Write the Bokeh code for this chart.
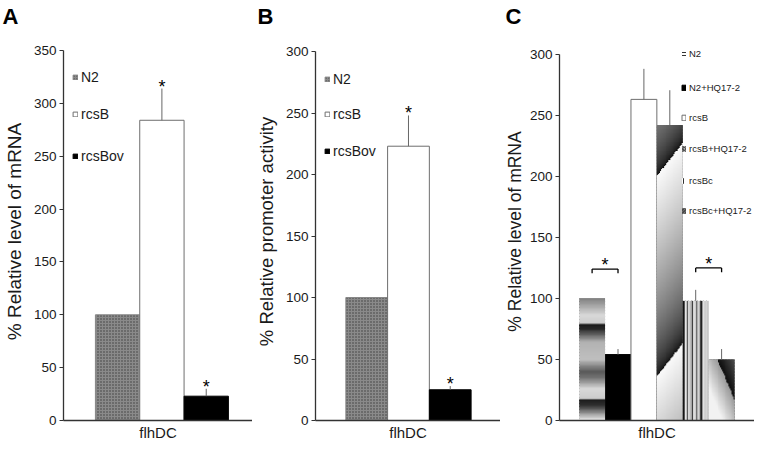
import numpy as np
from bokeh.plotting import figure
from bokeh.models import ColumnDataSource, Legend, LegendItem, FixedTicker, Range1d
from bokeh.layouts import row, column
from bokeh.embed import file_html
from bokeh.resources import INLINE
from bokeh.core.properties import value

# ---------------- data ----------------
gene = "flhDC"

groups_a = ["N2", "rcsB", "rcsBov"]
mrna_a = [100, 284, 23]
err_a = [0, 30, 7]
star_a = ["", "*", "*"]
yticks_a = [0, 50, 100, 150, 200, 250, 300, 350]

groups_b = ["N2", "rcsB", "rcsBov"]
promoter_b = [100, 223, 25]
err_b = [0, 25, 3]
star_b = ["", "*", "*"]
yticks_b = [0, 50, 100, 150, 200, 250, 300]

groups_c = ["N2", "N2+HQ17-2", "rcsB", "rcsB+HQ17-2", "rcsBc", "rcsBc+HQ17-2"]
mrna_c = [100, 54, 263, 242, 98, 50]
err_c = [0, 4.5, 25, 28.5, 9, 8.5]
pair_left_c = [0, 4]
pair_right_c = [1, 5]
pair_level_c = [124, 125]
pair_star_c = ["*", "*"]
yticks_c = [0, 50, 100, 150, 200, 250, 300]

panel_letters = ["A", "B", "C"]

# ---------------- styles ----------------
SANS = "Liberation Sans"
TXT = "#1a1a1a"
AX = "#333333"
TOP_H = 32            # height of the strip holding the panel letters
H = 412               # height of each chart figure
BOTTOM = 24
TOP = 10
FRAME_TOP = 8 + TOP_H + TOP             # page y of frame top (50)
FRAME_BOTTOM = 8 + TOP_H + H - BOTTOM   # page y of the x axis (428)
WIDTHS = [252, 248, 254]
LETTER_X = [2, 257, 505]   # page x - 8


def letter_strip(total_width):
    s = figure(width=total_width, height=TOP_H, x_range=Range1d(0, total_width), y_range=Range1d(0, TOP_H),
               output_backend="svg", toolbar_location=None, x_axis_type=None, y_axis_type=None,
               min_border=0, title=None)
    s.outline_line_color = None
    s.grid.visible = False
    s.text(x=LETTER_X, y=[TOP_H - 3] * 3, text=panel_letters, text_font=value(SANS),
           text_font_size="22px", text_font_style="bold", text_color="#000000",
           text_baseline="top")
    return s


def make_panel(width, border_left, xr, px_per_unit, ybounds, yticks, ylabel, ylabel_size,
               ylabel_standoff):
    ytop = (FRAME_BOTTOM - FRAME_TOP) / px_per_unit
    p = figure(width=width, height=H, x_range=Range1d(*xr), y_range=Range1d(0, ytop),
               output_backend="svg", toolbar_location=None, title=None,
               min_border_left=border_left, min_border_right=0,
               min_border_top=TOP, min_border_bottom=BOTTOM)
    p.outline_line_color = None
    p.xgrid.visible = False
    p.ygrid.visible = False
    p.background_fill_color = "white"
    p.border_fill_color = "white"
    ya = p.yaxis[0]
    ya.bounds = ybounds
    ya.ticker = FixedTicker(ticks=yticks)
    ya.minor_tick_line_color = None
    ya.major_tick_in = 0
    ya.major_tick_out = 4
    ya.major_tick_line_color = AX
    ya.axis_line_color = AX
    ya.axis_line_width = 1.3
    ya.major_label_text_font = SANS
    ya.major_label_text_font_size = "13.5px"
    ya.major_label_text_color = TXT
    ya.major_label_standoff = 3
    ya.axis_label = ylabel
    ya.axis_label_text_font = SANS
    ya.axis_label_text_font_size = ylabel_size
    ya.axis_label_text_font_style = "normal"
    ya.axis_label_text_color = TXT
    ya.axis_label_standoff = ylabel_standoff
    xa = p.xaxis[0]
    xa.ticker = FixedTicker(ticks=[])
    xa.major_tick_line_color = None
    xa.minor_tick_line_color = None
    xa.major_tick_out = 0
    xa.major_label_standoff = 0
    xa.axis_line_color = AX
    xa.axis_line_width = 1.6
    xa.axis_label = gene
    xa.axis_label_text_font = SANS
    xa.axis_label_text_font_size = "15px"
    xa.axis_label_text_font_style = "normal"
    xa.axis_label_text_color = TXT
    xa.axis_label_standoff = 3
    return p


def add_legend(p, entries, rows_px, x_px, frame_left, size, gw, gh, lh, standoff):
    for (label, rend, idx), rb in zip(entries, rows_px):
        item = LegendItem(label=label, renderers=[rend], index=idx)
        leg = Legend(items=[item], location=(x_px - frame_left, FRAME_BOTTOM - rb - lh / 2),
                     orientation="vertical", padding=0, margin=0, spacing=0,
                     border_line_color=None, background_fill_alpha=0,
                     glyph_width=gw, glyph_height=gh, label_height=lh, label_width=10,
                     label_standoff=standoff, label_text_font=SANS, label_text_font_size=size,
                     label_text_color=TXT, label_text_baseline="alphabetic")
        p.add_layout(leg)


def add_errors_and_stars(p, xs, tops, errs, stars):
    e = [(x, t, t + er) for x, t, er in zip(xs, tops, errs) if er > 0]
    p.segment(x0=[a[0] for a in e], x1=[a[0] for a in e], y0=[a[1] for a in e], y1=[a[2] for a in e],
              line_color="#666666", line_width=1)
    s = [(x, t + er, st) for x, t, er, st in zip(xs, tops, errs, stars) if st]
    p.text(x=[a[0] for a in s], y=[a[1] for a in s], text=[a[2] for a in s],
           text_font=value(SANS), text_font_size="18px", text_color="#000000",
           text_align="center", text_baseline="bottom", y_offset=8)


# ---------------- panels A and B ----------------
fill_ab = ["#8a8a8a", "#ffffff", "#000000"]
line_ab = ["#888888", "#6e6e6e", "#000000"]
hatch_ab = [".", " ", " "]


def panel_ab(width, border_left, xr, px_per_unit, ymax, yticks, ylabel, ylabel_size, standoff,
             groups, vals, errs, stars, frame_left, leg_rows, leg_x):
    p = make_panel(width, border_left, xr, px_per_unit, (0, ymax), yticks, ylabel,
                   ylabel_size, standoff)
    xs = list(range(len(groups)))
    src = ColumnDataSource(dict(x=xs, top=vals, fill=fill_ab, line=line_ab, hatch=hatch_ab))
    r = p.vbar(x="x", top="top", width=1, source=src, fill_color="fill", line_color="line",
               line_width=1, hatch_pattern="hatch", hatch_color="#333333", hatch_scale=3,
               hatch_weight=1, hatch_alpha=0.9)
    add_errors_and_stars(p, xs, vals, errs, stars)
    add_legend(p, [(g, r, i) for i, g in enumerate(groups)], leg_rows, leg_x, frame_left,
               "14px", 6, 6, 18, 3)
    return p


pA = panel_ab(WIDTHS[0], 58, (-1.22, 3.044), 370 / 350, 350, yticks_a, "% Relative level of mRNA", "19px", 6,
              groups_a, mrna_a, err_a, star_a, 66, [85, 121.5, 163.5], 75)
pB = panel_ab(WIDTHS[1], 61, (-1.227, 3.204), 369 / 300, 300, yticks_b, "% Relative promoter activity", "18.5px", 6,
              groups_b, promoter_b, err_b, star_b, 321, [86.5, 121.5, 158.5], 330)

# ---------------- panel C ----------------
fill_c = ["#ffffff", "#000000", "#ffffff", "#b0b0b0", "#ffffff", "#8c8c8c"]
line_c = [None, "#000000", "#6e6e6e", None, None, None]
hatch_c = ["-", " ", " ", "/", "|", "\\"]


def to_rgba(L):
    g = np.clip(np.round(L * 255), 0, 255).astype(np.uint8)
    img = np.empty(L.shape, dtype=np.uint32)
    v = img.view(dtype=np.uint8).reshape(L.shape + (4,))
    v[..., 0] = g
    v[..., 1] = g
    v[..., 2] = g
    v[..., 3] = 255
    return img


def tex_bands(v, xf, top):
    f = v / top
    return np.interp(f, [0, .12, .17, .178, .26, .35, .40, .50, .64, .75, .786, .794, .86, 1.0],
                     [.95, .2, .1, .8, .85, .45, .35, .75, .7, .15, .1, .8, .85, .5]) + 0 * xf


def tex_diag_up(v, xf, top):
    s = v - 28 * xf
    t = np.mod(s - 36, 164) / 164
    return 0.05 + 0.93 * t ** 0.6


def tex_stripes(v, xf, top):
    ph = np.mod(xf * 3, 1)
    return np.interp(ph, [0, .14, .2, .5, .56, .66, 1], [.05, .05, .95, .75, .25, .9, .6]) + 0 * v


def tex_diag_down(v, xf, top):
    d = v + 52 * xf - 67
    return np.where(d > 0, 0.05 + 0.3 * np.minimum(d / 40, 1), 0.6 + 0.35 * np.minimum(-d / 40, 1))


textures_c = {"N2": tex_bands, "rcsB+HQ17-2": tex_diag_up, "rcsBc": tex_stripes, "rcsBc+HQ17-2": tex_diag_down}

pC = make_panel(WIDTHS[2], 59, (-1.259, 6.116 + 4 / 25.9), 366.3 / 300, (0, 300), yticks_c,
                "% Relative level of mRNA", "17.5px", 2)
xs_c = list(range(len(groups_c)))
src_c = ColumnDataSource(dict(x=xs_c, top=mrna_c, fill=fill_c, line=line_c, hatch=hatch_c))
rC = pC.vbar(x="x", top="top", width=1, source=src_c, fill_color="fill", line_color="line",
             line_width=1, hatch_pattern="hatch", hatch_color="#333333", hatch_scale=3, hatch_weight=1)
for i, (g, val) in enumerate(zip(groups_c, mrna_c)):
    if g in textures_c:
        nr, nc = max(int(val * 1.5), 10), 30
        vv = (np.arange(nr)[:, None] + 0.5) / nr * val
        xf = (np.arange(nc)[None, :] + 0.5) / nc
        L = textures_c[g](vv * np.ones((1, nc)), xf * np.ones((nr, 1)), val)
        pC.image_rgba(image=[to_rgba(L)], x=i - 0.5, y=0, dw=1, dh=val)

add_errors_and_stars(pC, xs_c, mrna_c, err_c, [""] * len(groups_c))
# significance brackets
bx0 = [xs_c[a] for a in pair_left_c]
bx1 = [xs_c[b] for b in pair_right_c]
pC.segment(x0=bx0, x1=bx1, y0=pair_level_c, y1=pair_level_c, line_color="#000000", line_width=1.3)
pC.segment(x0=bx0 + bx1, x1=bx0 + bx1, y0=pair_level_c + pair_level_c,
           y1=[l - 3.5 for l in pair_level_c + pair_level_c], line_color="#000000", line_width=1.3)
pC.text(x=[(a + b) / 2 for a, b in zip(bx0, bx1)], y=pair_level_c, text=pair_star_c,
        text_font=value(SANS), text_font_size="18px", text_color="#000000",
        text_align="center", text_baseline="bottom", y_offset=6)
add_legend(pC, [(g, rC, i) for i, g in enumerate(groups_c)], [61.7, 95, 125, 156.7, 188.3, 218],
           689, 567, "9.5px", 5, 7, 14, 3)

layout = column(letter_strip(sum(WIDTHS)), row(pA, pB, pC))
open("out.html", "w").write(file_html(layout, INLINE))
